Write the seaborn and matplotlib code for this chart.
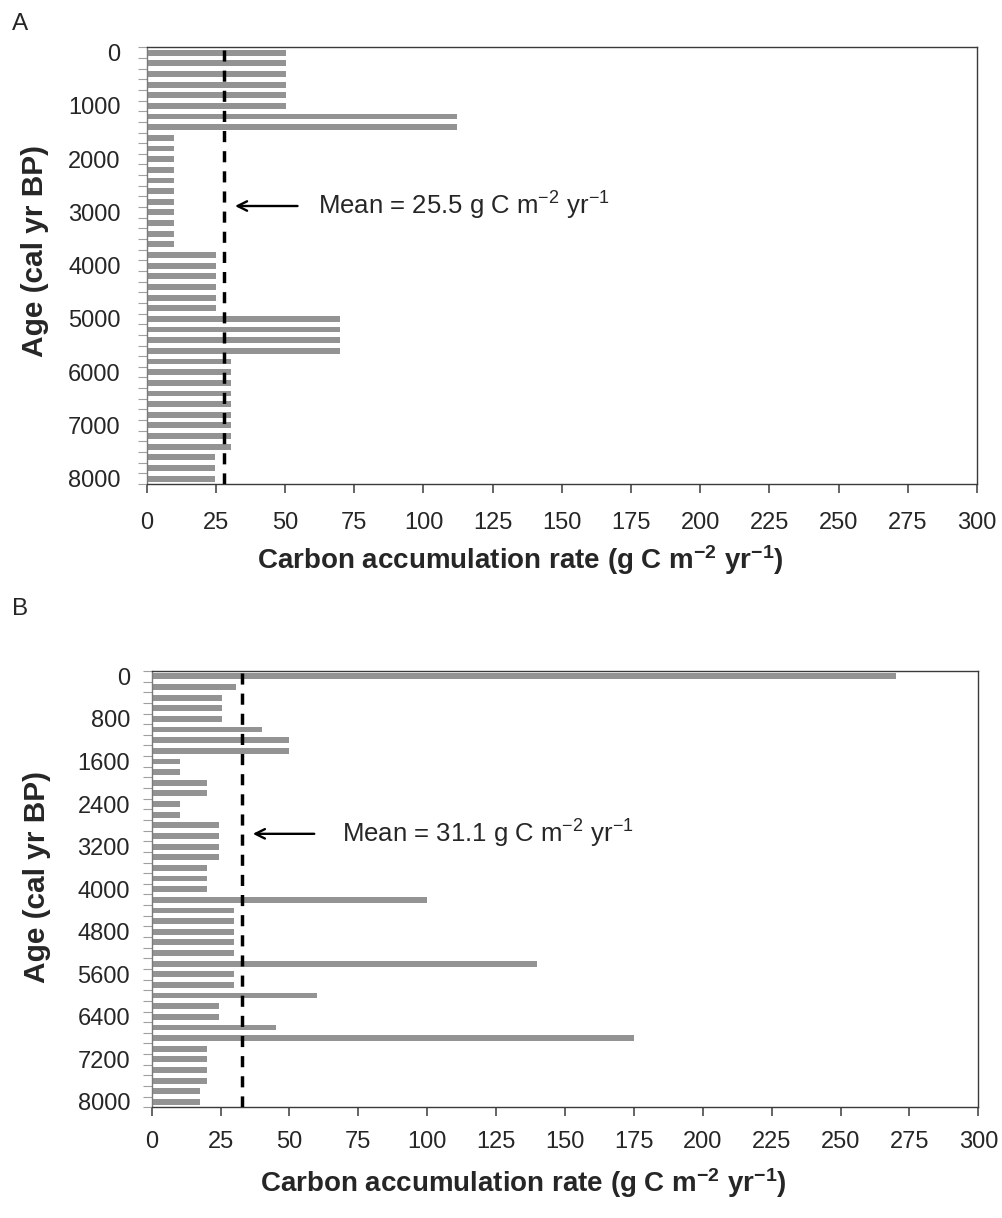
import numpy as np
import pandas as pd
import matplotlib
matplotlib.use("Agg")
import matplotlib.pyplot as plt
import seaborn as sns

# ---------------- data ----------------
ages = [str(a) for a in range(0, 8001, 200)]  # category labels (cal yr BP)

rate_a = [50.5, 50.5, 50.5, 50.5, 50.5, 50.5,
          112, 112,
          10, 10, 10, 10, 10, 10, 10, 10, 10, 10, 10,
          25, 25, 25, 25, 25, 25,
          70, 70, 70, 70,
          30.3, 30.3, 30.3, 30.3, 30.3, 30.3, 30.3, 30.3, 30.3,
          24.8, 24.8, 24.8]

rate_b = [270, 30.6, 25.6, 25.6, 25.6, 40, 50, 50, 10.3, 10.3,
          20, 20, 10.3, 10.3, 24.4, 24.4, 24.4, 24.4, 20, 20,
          20, 100, 30, 30, 30, 30, 30, 140, 30, 30,
          60, 24.4, 24.4, 45, 175, 20, 20, 20, 20, 17.5,
          17.5]

mean_line_a = 27.8
mean_line_b = 32.7
mean_text_a = "Mean = 25.5 g C m$^{-2}$ yr$^{-1}$"
mean_text_b = "Mean = 31.1 g C m$^{-2}$ yr$^{-1}$"

ytick_labels_a = ["0", "1000", "2000", "3000", "4000", "5000", "6000", "7000", "8000"]
ytick_labels_b = ["0", "800", "1600", "2400", "3200", "4000", "4800", "5600", "6400", "7200", "8000"]
xticks = [0, 25, 50, 75, 100, 125, 150, 175, 200, 225, 250, 275, 300]

xlabel = r"Carbon accumulation rate (g C m$^{\mathbf{-2}}$ yr$^{\mathbf{-1}}$)"
ylabel = "Age (cal yr BP)"

# ---------------- style ----------------
sns.set_style("white")
plt.rcParams["font.family"] = ["Liberation Sans", "DejaVu Sans"]
plt.rcParams["mathtext.fontset"] = "custom"
plt.rcParams["mathtext.rm"] = "Liberation Sans"
plt.rcParams["mathtext.it"] = "Liberation Sans:italic"
plt.rcParams["mathtext.bf"] = "Liberation Sans:bold"

BAR = "#939393"
SPINE = "#3a3a3a"

fig = plt.figure(figsize=(10.03, 12.18), dpi=100)
W, H = 1003, 1218

def add_ax(left, right, top, bottom):
    return fig.add_axes([left / W, 1 - bottom / H, (right - left) / W, (bottom - top) / H])

ax_a = add_ax(146.7, 977.0, 47.3, 484.0)
ax_b = add_ax(151.7, 978.3, 671.0, 1107.3)

def draw(ax, values, step, labels, mline, mtext, arrow_y, arrow_tail, arrow_head, text_x, ypad, xpad):
    df = pd.DataFrame({"age": ages, "rate": values})
    sns.barplot(data=df, x="rate", y="age", orient="h", color=BAR, saturation=1,
                width=0.55, ax=ax, linewidth=0)
    ax.set_xlim(0, 300)
    ax.set_ylim(len(ages) - 0.5, -0.5)
    ax.set_xticks(xticks)
    ax.set_xticklabels([str(t) for t in xticks], fontsize=17)
    major = list(range(0, len(ages), step))
    ax.set_yticks(major)
    ax.set_yticklabels(labels, fontsize=17)
    ax.set_yticks(np.arange(-0.5, len(ages), 1.0), minor=True)
    ax.tick_params(axis="y", which="major", length=0, pad=ypad)
    ax.tick_params(axis="y", which="minor", length=6.5, width=0.8, color="#a0a0a0", direction="out", left=True)
    ax.tick_params(axis="x", which="major", length=6.3, width=1.1, color=SPINE, direction="out", pad=xpad, bottom=True)
    for s in ax.spines.values():
        s.set_visible(True)
        s.set_color(SPINE)
        s.set_linewidth(1.0)
    ax.spines["left"].set_color("#7a7a7a")
    ax.axvline(mline, color="black", linewidth=2.5, dashes=(3.2, 2.6), zorder=3)
    ax.annotate("", xy=(arrow_head, arrow_y), xytext=(arrow_tail, arrow_y),
                arrowprops=dict(arrowstyle="->", color="black", lw=1.7, mutation_scale=17))
    ax.text(text_x, arrow_y, mtext, fontsize=18.5, va="center", ha="left")
    ax.set_xlabel(xlabel, fontsize=20, fontweight="bold")
    ax.set_ylabel(ylabel, fontsize=21.5, fontweight="bold")
    ax.grid(False)

draw(ax_a, rate_a, 5, ytick_labels_a, mean_line_a, mean_text_a, 14.4, 55.5, 30.9, 62.0, 18.7, 14)
draw(ax_b, rate_b, 4, ytick_labels_b, mean_line_b, mean_text_b, 14.8, 60.0, 35.7, 69.0, 15.6, 11)

ax_a.xaxis.set_label_coords(0.45, -0.135)
ax_b.xaxis.set_label_coords(0.45, -0.136)
ax_a.yaxis.set_label_coords(-0.118, 0.533)
ax_b.yaxis.set_label_coords(-0.122, 0.528)

fig.text(12 / W, 1 - 13 / H, "A", fontsize=17.5, va="top", ha="left")
fig.text(12 / W, 1 - 598 / H, "B", fontsize=17.5, va="top", ha="left")

fig.savefig("out.png", dpi=100)
